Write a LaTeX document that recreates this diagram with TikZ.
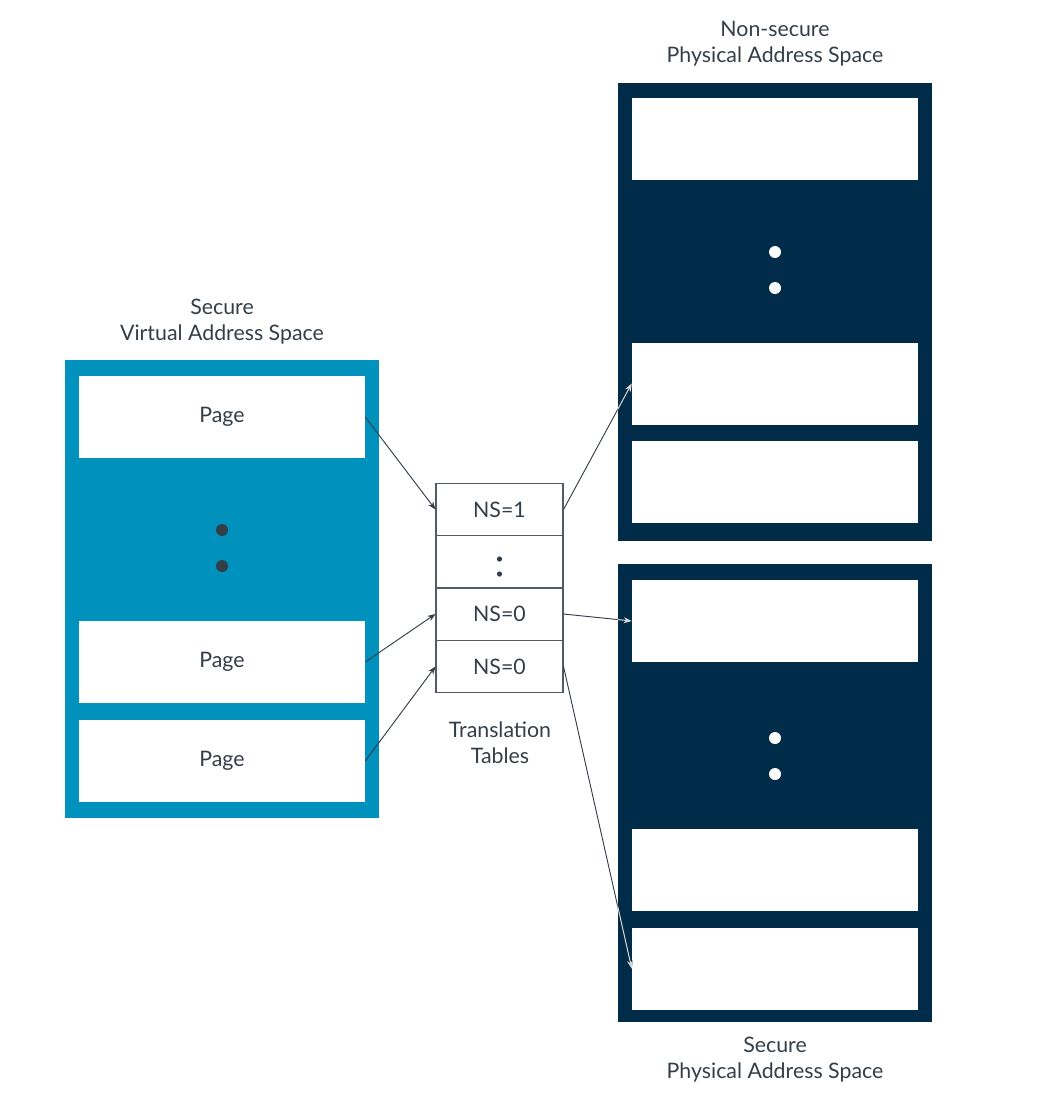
\documentclass[tikz,border=0pt]{standalone}
\usepackage{fontspec}
\setmainfont{Lato}
\usetikzlibrary{arrows.meta}
\definecolor{armblue}{RGB}{0,145,189}
\definecolor{armnavy}{RGB}{0,43,73}
\definecolor{armgray}{RGB}{51,62,72}
\tikzset{
  frame/.style={minimum width=235.5pt, minimum height=343.5pt, inner sep=0pt},
  page/.style={fill=white, minimum width=214.5pt, minimum height=61.5pt, inner sep=0pt, text=armgray},
  cell/.style={draw=armgray!85, line width=0.8pt, minimum width=95.25pt, minimum height=39.4pt, inner sep=0pt, text=armgray},
  label/.style={align=center, text=armgray},
  link/.style={draw=armgray, line width=0.7pt, -{Stealth[length=6pt,width=4.5pt]}},
}
\begin{document}
\begin{tikzpicture}[x=0.75pt, y=-0.75pt, font=\fontsize{16}{19.5}\selectfont]
\useasboundingbox (0,0) rectangle (1057,1108);
% address spaces
\node[frame, fill=armblue] (vf) at (222,589) {};
\node[frame, fill=armnavy] (nsf) at (775,311.5) {};
\node[frame, fill=armnavy] (sf) at (775,793) {};
\foreach \n/\y/\t in {p1/417/Page, p2/662/Page, p3/761/Page}
  \node[page] (\n) at (222,\y) {\t};
\foreach \n/\y in {n1/139, n2/383.5, n3/482, s1/621, s2/870, s3/968.5}
  \node[page] (\n) at (775,\y) {};
\foreach \x\y\c in {222/530/armgray, 222/566/armgray, 775/252/white, 775/288/white, 775/738/white, 775/774/white}
  \fill[\c] (\x,\y) circle(6);
% translation tables
\foreach \n/\y/\t in {t1/509.5/{NS=1}, t2/562/{}, t3/614/{NS=0}, t4/666.5/{NS=0}}
  \node[cell] (\n) at (499.5,\y) {\t};
\fill[armgray] (499.5,559) circle(2.6) (499.5,574) circle(2.6);
% labels
\node[label] (vl) at (222,322) {Secure\\Virtual Address Space};
\node[label] (nsl) at (775,44) {Non-secure\\Physical Address Space};
\node[label] (sl) at (775,1060) {Secure\\Physical Address Space};
\node[label] (tl) at (500,743) {Translation\\Tables};
% mappings
\foreach \a/\b in {p1/t1, p2/t3, p3/t4}
  \draw[link] (\a.east) -- (\b.west);
\foreach \a/\b in {t1/n2, t3/s1, t4/s3}
  \draw[link] (\a.east) -- (\b.west);
\begin{scope}
\clip (nsf.south west) rectangle (nsf.north east) (sf.south west) rectangle (sf.north east);
\foreach \a/\b in {t1/n2, t3/s1, t4/s3}
  \draw[link, draw=gray!30, fill=gray!30] (\a.east) -- (\b.west);
\end{scope}
\end{tikzpicture}
\end{document}
